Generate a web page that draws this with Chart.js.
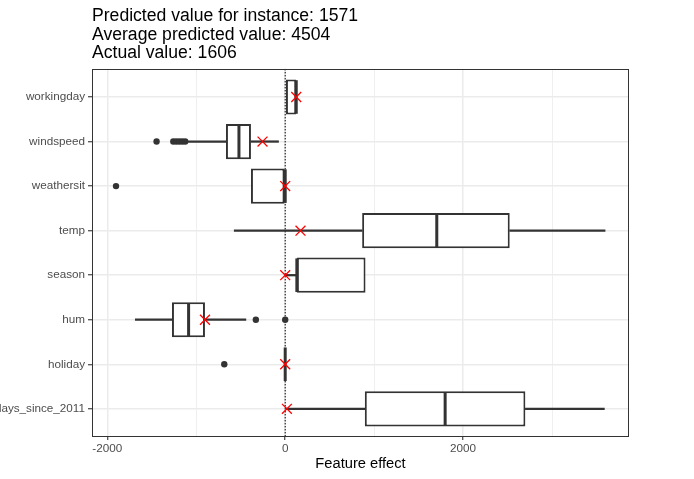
<!DOCTYPE html>
<html><head><meta charset="utf-8">
<script src="https://cdn.jsdelivr.net/npm/chart.js@4"></script>
<style>html,body{margin:0;padding:0;background:#fff}canvas{display:block}</style>
</head><body>
<canvas id="c" width="694" height="479"></canvas>
<script>
// ---- data ----
const features = ['workingday','windspeed','weathersit','temp','season','hum','holiday','days_since_2011'];
const whiskerLow  = [0,   -1105, -385, -573, 0,   -1685, 0, 10];
const q1          = [0,   -666,  -385,  865, 131, -1273, 0, 895];
const median      = [124, -520,  0,    1704, 131, -1086, 0, 1798];
const q3          = [124, -385,  0,    2524, 903, -902,  0, 2700];
const whiskerHigh = [124, -75,   0,    3596, 903, -442,  0, 3588];
const instanceEffect = [124, -255, 0, 172, 0, -902, 0, 19];
const outlierFeature = ['windspeed','windspeed','windspeed','windspeed','windspeed','windspeed','weathersit','hum','hum','holiday'];
const outlierValue   = [-1446, -1258, -1225, -1191, -1157, -1124, -1902, -330, 0, -685];
const titleLines = ['Predicted value for instance: 1571','Average predicted value: 4504','Actual value: 1606'];
const xTicks = [-2000, -1000, 0, 1000, 2000, 3000];
const xLabelTicks = [-2000, 0, 2000];
const xTitle = 'Feature effect';

Chart.defaults.font.family = '"Liberation Sans", Arial, sans-serif';
const dark = '#333333';

const idx = f => features.indexOf(f);
const seg = (a, b, i) => (a === b ? null : {x: [a, b], y: i});

const panelPlugin = {
  id: 'panel',
  beforeDatasetsDraw(chart) {
    const {ctx, chartArea: a, scales: {x}} = chart;
    const px = x.getPixelForValue(0);
    ctx.save();
    ctx.strokeStyle = '#000';
    ctx.lineWidth = 1;
    ctx.setLineDash([1.5, 1.5]);
    ctx.beginPath();
    ctx.moveTo(px, a.top);
    ctx.lineTo(px, a.bottom);
    ctx.stroke();
    ctx.restore();
  },
  afterDraw(chart) {
    const {ctx, chartArea: a} = chart;
    ctx.save();
    ctx.strokeStyle = dark;
    ctx.lineWidth = 1;
    ctx.strokeRect(Math.round(a.left) + 0.5, Math.round(a.top) + 0.5, Math.round(a.right - a.left) - 1, Math.round(a.bottom - a.top));
    ctx.restore();
  }
};

new Chart(document.getElementById('c'), {
  type: 'bar',
  data: {
    datasets: [
      {
        type: 'line', label: 'instance', order: 0,
        data: instanceEffect.map((v, i) => ({x: v, y: i})),
        showLine: false, pointStyle: 'crossRot', pointRadius: 7,
        pointBorderColor: '#ff0000', pointBackgroundColor: '#ff0000', pointBorderWidth: 1.3
      },
      {
        type: 'line', label: 'median', order: 1,
        data: median.map((v, i) => ({x: v, y: i})),
        showLine: false, pointStyle: 'line', rotation: 90, pointRadius: 16.8,
        pointBorderColor: dark, pointBorderWidth: 3
      },
      {
        type: 'line', label: 'outliers', order: 2,
        data: outlierFeature.map((f, i) => ({x: outlierValue[i], y: idx(f)})),
        showLine: false, pointStyle: 'circle', pointRadius: 3.2,
        pointBackgroundColor: dark, pointBorderWidth: 0
      },
      {
        label: 'box', order: 3, grouped: false,
        data: q1.map((v, i) => seg(v, q3[i], i)).filter(d => d),
        backgroundColor: '#ffffff', borderColor: dark, borderWidth: 2, borderSkipped: false,
        barPercentage: 0.79, categoryPercentage: 1
      },
      {
        label: 'whiskerLow', order: 4, grouped: false,
        data: whiskerLow.map((v, i) => seg(v, q1[i], i)).filter(d => d),
        backgroundColor: dark, borderWidth: 0, barThickness: 1.6
      },
      {
        label: 'whiskerHigh', order: 4, grouped: false,
        data: whiskerHigh.map((v, i) => seg(q3[i], v, i)).filter(d => d),
        backgroundColor: dark, borderWidth: 0, barThickness: 1.6
      }
    ]
  },
  options: {
    indexAxis: 'y',
    responsive: false,
    animation: false,
    events: [],
    layout: {padding: {left: 0, right: 65, top: 0, bottom: 0}},
    plugins: {
      legend: {display: false},
      tooltip: {enabled: false},
      title: {
        display: true, fullSize: false, align: 'start',
        text: titleLines, color: '#000',
        font: {size: 17.6, weight: 'normal', lineHeight: 1.05},
        padding: {top: 7, bottom: 6.5}
      }
    },
    scales: {
      x: {
        type: 'linear', position: 'bottom', min: -2172, max: 3865,
        afterBuildTicks: s => { s.ticks = xTicks.map(v => ({value: v})); },
        afterFit: s => { s.height = 43; },
        ticks: {
          autoSkip: false, maxRotation: 0, color: '#4d4d4d', font: {size: 11.7}, padding: 2,
          callback: v => xLabelTicks.includes(v) ? String(v) : ''
        },
        grid: {
          color: '#ebebeb',
          lineWidth: c => (c.tick && xLabelTicks.includes(c.tick.value)) ? 1.5 : 0.8,
          tickColor: c => (c.tick && xLabelTicks.includes(c.tick.value)) ? dark : 'rgba(0,0,0,0)',
          tickLength: 4, tickWidth: 1.1
        },
        border: {display: false},
        title: {display: true, text: xTitle, color: '#000', font: {size: 14.7}, padding: {top: 0, bottom: 6}}
      },
      y: {
        type: 'linear', reverse: true, min: -0.63, max: 7.61, offset: false,
        afterBuildTicks: s => { s.ticks = features.map((f, i) => ({value: i})); },
        afterFit: s => { s.width = 92; },
        ticks: {
          autoSkip: false, color: '#4d4d4d', font: {size: 11.7}, padding: 3,
          callback: v => features[v]
        },
        grid: {offset: false, color: '#ebebeb', lineWidth: 1.5, tickColor: dark, tickLength: 4, tickWidth: 1.1},
        border: {display: false}
      }
    }
  },
  plugins: [panelPlugin]
});
</script>
</body></html>
